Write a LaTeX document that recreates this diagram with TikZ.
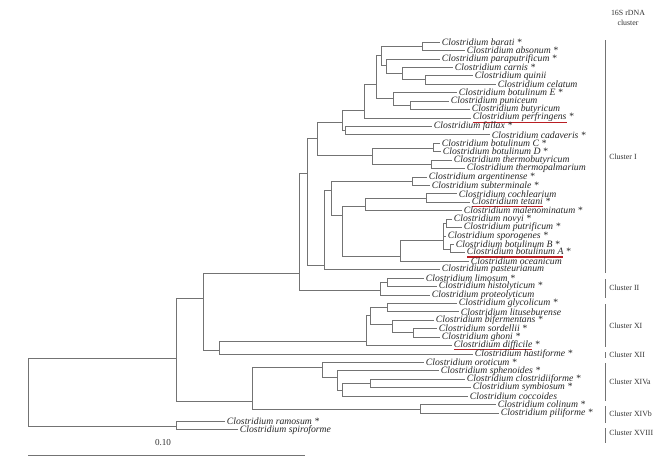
\documentclass[tikz,border=0pt]{standalone}
\usepackage{fontspec}
\setmainfont{Liberation Serif}

\definecolor{treegray}{gray}{0.45}
\definecolor{ulred}{RGB}{185,30,35}
\newcommand\redul[1]{{\setbox0\hbox{#1}\rlap{\color{ulred}\rule[-2.2pt]{\wd0}{0.9pt}}\box0}}

\tikzset{
  branch/.style={draw=treegray, line width=0.45pt},
  leaf/.style={anchor=west, inner xsep=1.2pt, inner ysep=0pt,
    font=\fontsize{6.9}{8}\selectfont\itshape, text=black!85},
  clab/.style={anchor=west, inner sep=0pt, font=\fontsize{5.6}{7}\selectfont, text=black!80},
  cbar/.style={draw=black!55, line width=0.7pt}
}

\begin{document}
\begin{tikzpicture}[x=0.025cm,y=-0.025cm]
  \useasboundingbox (0,0) rectangle (659,461);
  % leaves: name / tip x / y / label
  \foreach \n/\x/\y/\t in {
    barati/440/42/Clostridium barati *,
    absonum/465/50.4/Clostridium absonum *,
    paraputrificum/440/58.9/Clostridium paraputrificum *,
    carnis/453/67.3/Clostridium carnis *,
    quinii/473/75.7/Clostridium quinii,
    celatum/496/84.2/Clostridium celatum,
    botE/457/92.6/Clostridium botulinum E *,
    puniceum/449/101/Clostridium puniceum,
    butyricum/470/109.4/Clostridium butyricum,
    perfringens/471/117.9/\redul{Clostridium perfringens} *,
    fallax/432/126.3/Clostridium fallax *,
    cadaveris/490/134.7/Clostridium cadaveris *,
    botC/440/143.2/Clostridium botulinum C *,
    botD/441/151.6/Clostridium botulinum D *,
    thermobut/452/160/Clostridium thermobutyricum,
    thermopalm/465/168.5/Clostridium thermopalmarium,
    argentinense/427/176.9/Clostridium argentinense *,
    subterminale/430/185.3/Clostridium subterminale *,
    cochlearium/457/193.7/Clostridium cochlearium,
    tetani/470/202.2/\redul{Clostridium tetani} *,
    malenominatum/462/210.6/Clostridium malenominatum *,
    novyi/452/219/Clostridium novyi *,
    putrificum/462/227.5/Clostridium putrificum *,
    sporogenes/446/235.9/Clostridium sporogenes *,
    botB/454/244.3/Clostridium botulinum B *,
    botA/465/252.8/\redul{Clostridium botulinum A} *,
    oceanicum/469/261.2/Clostridium oceanicum,
    pasteurianum/440/269.6/Clostridium pasteurianum,
    limosum/424/278/Clostridium limosum *,
    histolyticum/437/286.5/Clostridium histolyticum *,
    proteolyticum/430/294.9/Clostridium proteolyticum,
    glycolicum/457/303.3/Clostridium glycolicum *,
    lituseburense/459/311.8/Clostridium lituseburense,
    bifermentans/434/320.2/Clostridium bifermentans *,
    sordellii/437/328.6/Clostridium sordellii *,
    ghoni/440/337.1/Clostridium ghoni *,
    difficile/452/345.5/\redul{Clostridium difficile} *,
    hastiforme/473/353.9/Clostridium hastiforme *,
    oroticum/424/362.3/Clostridium oroticum *,
    sphenoides/439/370.8/Clostridium sphenoides *,
    clostridiiforme/465/379.2/Clostridium clostridiiforme *,
    symbiosum/471/387.6/Clostridium symbiosum *,
    coccoides/468/396.1/Clostridium coccoides,
    colinum/496/404.5/Clostridium colinum *,
    piliforme/499/412.9/Clostridium piliforme *,
    ramosum/225/421.4/Clostridium ramosum *,
    spiroforme/238/429.8/Clostridium spiroforme}
    \node[leaf] (\n) at (\x,\y) {\t};
  % internal nodes
  \foreach \n/\x/\y in {nBA/422/46, nQC/425/79, nCa/402/73, nPa/386/65,
    nT1/381/55, nPB/410/105, nE/393/98, nT2/376/84, nP/364/110,
    nFC/345/130, nF/342/122, nCD/433/148, nTT/431/164, nCT/372/155,
    nI1/317/138, nAS/412/181, nCoT/426/198, nMal/365/206, nNP/446/223,
    nAB/450/249, nBot/443/240, nOce/400/256, nM/342/215, nArg/331/190,
    nPast/324/265, nI2/307/173, nLH/387/282, nII/380/290, nUp/299/273,
    nGL/387/307, nSG/413/332, nBif/392/324, nXIa/370/315, nXI/366/341,
    nXII/219/350, nMid/203/298, nCS/370/383, nCoc/342/390, nSph/337/377,
    nOro/322/367, nCP/420/409, nXIV/252/401, nLow/176/358, nRS/176/426,
    root/28/392}
    \coordinate (\n) at (\x,\y);
  % branches
  \foreach \p/\c in {nBA/barati, nBA/absonum, nQC/quinii, nQC/celatum,
    nCa/carnis, nCa/nQC, nPa/paraputrificum, nPa/nCa, nT1/nBA, nT1/nPa,
    nPB/puniceum, nPB/butyricum, nE/botE, nE/nPB, nT2/nT1, nT2/nE,
    nP/nT2, nP/perfringens, nFC/fallax, nFC/cadaveris, nF/nP, nF/nFC,
    nCD/botC, nCD/botD, nTT/thermobut, nTT/thermopalm, nCT/nCD, nCT/nTT,
    nI1/nF, nI1/nCT, nAS/argentinense, nAS/subterminale,
    nCoT/cochlearium, nCoT/tetani, nMal/nCoT, nMal/malenominatum,
    nNP/novyi, nNP/putrificum, nAB/botB, nAB/botA,
    nBot/nNP, nBot/sporogenes, nBot/nAB, nOce/nBot, nOce/oceanicum,
    nM/nMal, nM/nOce, nArg/nAS, nArg/nM, nPast/nArg, nPast/pasteurianum,
    nI2/nI1, nI2/nPast, nLH/limosum, nLH/histolyticum,
    nII/nLH, nII/proteolyticum, nUp/nI2, nUp/nII,
    nGL/glycolicum, nGL/lituseburense, nSG/sordellii, nSG/ghoni,
    nBif/bifermentans, nBif/nSG, nXIa/nGL, nXIa/nBif,
    nXI/nXIa, nXI/difficile, nXII/nXI, nXII/hastiforme,
    nMid/nUp, nMid/nXII, nCS/clostridiiforme, nCS/symbiosum,
    nCoc/nCS, nCoc/coccoides, nSph/sphenoides, nSph/nCoc,
    nOro/oroticum, nOro/nSph, nCP/colinum, nCP/piliforme,
    nXIV/nOro, nXIV/nCP, nLow/nMid, nLow/nXIV,
    nRS/ramosum, nRS/spiroforme, root/nLow, root/nRS}
    \draw[branch] (\p) |- (\c);

  % cluster brackets
  \node[align=center, inner sep=0pt, font=\fontsize{5.6}{7}\selectfont, text=black!80]
    (head) at (628,18) {16S rDNA\\cluster};
  \foreach \a/\b/\ly/\lab [count=\i] in {40/273/157/Cluster I, 279/298/288/Cluster II,
    304/347/326/Cluster XI, 352/358/355/Cluster XII, 363/401/382/Cluster XIVa,
    406/423/414/Cluster XIVb, 428/443/433/Cluster XVIII}{
    \draw[cbar] (605,\a) -- (605,\b);
    \node[clab] (cl\i) at (609,\ly) {\lab};
  }

  % scale bar
  \coordinate (sbL) at (28,455);
  \coordinate (sbR) at (305,455);
  \draw[branch] (sbL) -- (sbR);
  \node[font=\fontsize{6.5}{8}\selectfont, text=black!80] (sblab) at (163,443) {0.10};
\end{tikzpicture}
\end{document}
